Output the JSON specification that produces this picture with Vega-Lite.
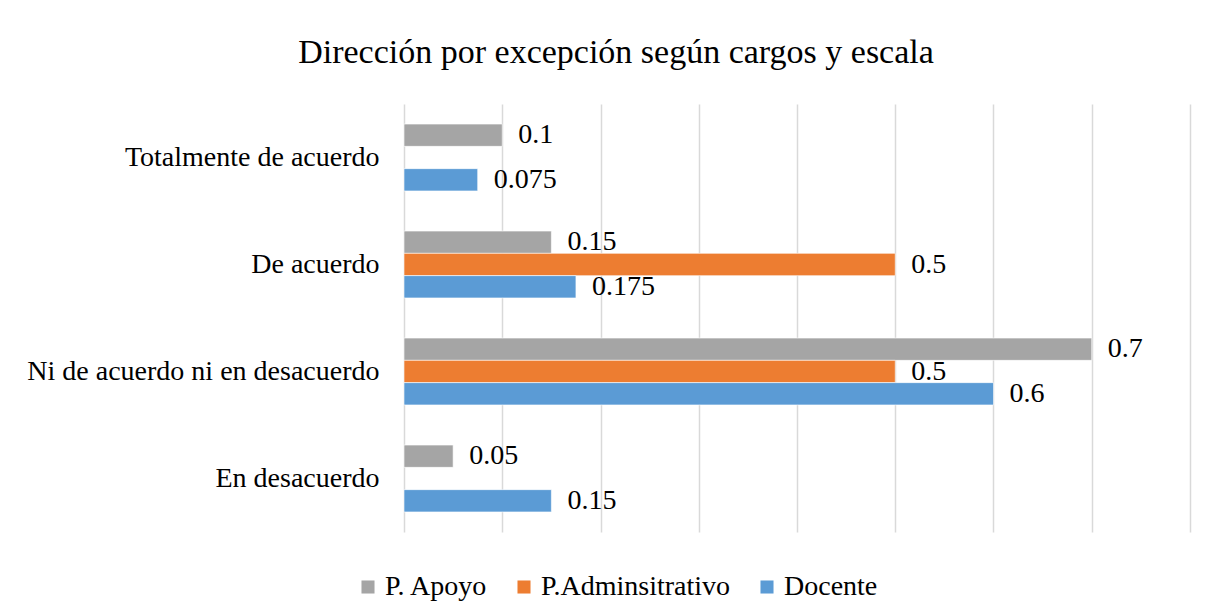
{
  "$schema": "https://vega.github.io/schema/vega-lite/v6.json",
  "autosize": "none",
  "width": 786,
  "height": 428,
  "padding": {"left": 404, "top": 104, "right": 19, "bottom": 84},
  "background": "white",
  "config": {
    "view": {"stroke": null},
    "font": "Liberation Serif"
  },
  "title": {
    "text": "Dirección por excepción según cargos y escala",
    "font": "Liberation Serif",
    "fontSize": 34,
    "fontWeight": "normal",
    "color": "#000000",
    "anchor": "middle",
    "frame": "group",
    "dx": -181,
    "offset": 34
  },
  "data": {
    "values": [
      {"escala": "Totalmente de acuerdo", "cargo": "P. Apoyo", "valor": 0.1},
      {"escala": "Totalmente de acuerdo", "cargo": "Docente", "valor": 0.075},
      {"escala": "De acuerdo", "cargo": "P. Apoyo", "valor": 0.15},
      {"escala": "De acuerdo", "cargo": "P.Adminsitrativo", "valor": 0.5},
      {"escala": "De acuerdo", "cargo": "Docente", "valor": 0.175},
      {"escala": "Ni de acuerdo ni en desacuerdo", "cargo": "P. Apoyo", "valor": 0.7},
      {"escala": "Ni de acuerdo ni en desacuerdo", "cargo": "P.Adminsitrativo", "valor": 0.5},
      {"escala": "Ni de acuerdo ni en desacuerdo", "cargo": "Docente", "valor": 0.6},
      {"escala": "En desacuerdo", "cargo": "P. Apoyo", "valor": 0.05},
      {"escala": "En desacuerdo", "cargo": "Docente", "valor": 0.15}
    ]
  },
  "encoding": {
    "y": {
      "field": "escala",
      "type": "nominal",
      "sort": ["Totalmente de acuerdo", "De acuerdo", "Ni de acuerdo ni en desacuerdo", "En desacuerdo"],
      "scale": {"paddingInner": 0.375, "paddingOuter": 0.1875},
      "axis": {
        "title": null,
        "domain": false,
        "ticks": false,
        "labelPadding": 25,
        "labelFont": "Liberation Serif",
        "labelFontSize": 28,
        "labelColor": "#000000",
        "labelLimit": 500
      }
    },
    "yOffset": {
      "field": "cargo",
      "type": "nominal",
      "sort": ["P. Apoyo", "P.Adminsitrativo", "Docente"],
      "scale": {"domain": ["P. Apoyo", "P.Adminsitrativo", "Docente"], "paddingInner": 0, "paddingOuter": 0}
    },
    "x": {
      "field": "valor",
      "type": "quantitative",
      "scale": {"domain": [0, 0.8], "nice": false},
      "axis": {
        "title": null,
        "domain": false,
        "ticks": false,
        "labels": false,
        "values": [0, 0.1, 0.2, 0.3, 0.4, 0.5, 0.6, 0.7, 0.8],
        "grid": true,
        "gridColor": "#d9d9d9",
        "gridWidth": 1.5
      }
    }
  },
  "layer": [
    {
      "mark": {"type": "bar", "stroke": "white", "strokeWidth": 0.6},
      "encoding": {
        "color": {
          "field": "cargo",
          "type": "nominal",
          "scale": {
            "domain": ["P. Apoyo", "P.Adminsitrativo", "Docente"],
            "range": ["#a5a5a5", "#ed7d31", "#5b9bd5"]
          },
          "legend": {
            "title": null,
            "orient": "none",
            "direction": "horizontal",
            "legendX": -50,
            "legendY": 469,
            "padding": 0,
            "symbolType": "square",
            "symbolSize": 170,
            "symbolStrokeWidth": 0,
            "labelFont": "Liberation Serif",
            "labelFontSize": 28,
            "labelColor": "#000000",
            "labelOffset": 3,
            "columnPadding": 22,
            "labelLimit": 400
          }
        }
      }
    },
    {
      "mark": {"type": "text", "align": "left", "baseline": "middle", "dx": 16, "font": "Liberation Serif", "fontSize": 28, "color": "#000000"},
      "encoding": {
        "text": {"field": "valor", "type": "quantitative"}
      }
    }
  ]
}
